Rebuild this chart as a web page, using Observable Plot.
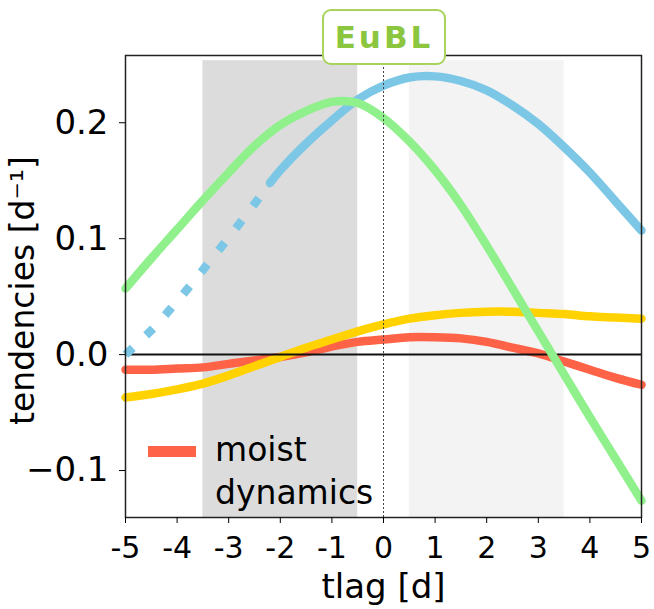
<!DOCTYPE html>
<html><head><meta charset="utf-8">
<script src="https://cdn.jsdelivr.net/npm/d3@7"></script>
<script src="https://cdn.jsdelivr.net/npm/@observablehq/plot@0.6"></script>
<style>
body{margin:0;background:#fff;}
#wrap{position:relative;width:654px;height:609px;overflow:hidden;font-family:"DejaVu Sans",sans-serif;}
#wrap svg{position:absolute;left:0;top:0;}
#title{position:absolute;left:322px;top:9px;width:120px;height:52px;border:2px solid #a9d35e;border-radius:9px;background:#fff;
  color:#8cc63f;font-family:"DejaVu Sans",sans-serif;font-weight:bold;font-size:31px;letter-spacing:3px;text-align:center;line-height:52px;}
#legsw{position:absolute;left:148px;top:446px;width:48px;height:11px;}
#legtx{position:absolute;left:215px;top:428px;font-family:"DejaVu Sans",sans-serif;font-size:33px;line-height:43px;color:#000;}
</style></head><body><div id="wrap"></div>
<script>
// x values (days)
const tlag = [-5,-4.5,-4,-3.5,-3,-2.5,-2,-1.5,-1,-0.5,0,0.5,1,1.5,2,2.5,3,3.5,4,4.5,5];
// red: moist dynamics
const moistDynamics = [-0.013,-0.013,-0.012,-0.011,-0.008,-0.005,-0.002,0.002,0.007,0.011,0.013,0.015,0.015,0.014,0.011,0.006,0.001,-0.006,-0.013,-0.020,-0.026];
// yellow term
const termYellow = [-0.037,-0.034,-0.030,-0.025,-0.018,-0.010,-0.002,0.006,0.013,0.020,0.026,0.031,0.034,0.036,0.037,0.037,0.036,0.035,0.033,0.032,0.031];
// green term
const termGreen = [0.057,0.083,0.108,0.133,0.157,0.180,0.198,0.210,0.218,0.217,0.204,0.184,0.159,0.129,0.094,0.057,0.020,-0.017,-0.054,-0.090,-0.126];
// blue term (dotted up to blueDottedUntil)
const blueX = [-5,-4.5,-4,-3.5,-3,-2.5,-2.2,-2,-1.5,-1,-0.5,0,0.5,1,1.5,2,2.5,3,3.5,4,4.5,5];
const termBlue = [0.000,0.021,0.046,0.073,0.101,0.130,0.148,0.159,0.182,0.202,0.220,0.232,0.239,0.240,0.236,0.228,0.215,0.199,0.179,0.157,0.132,0.107];
const blueDottedUntil = -2.2;
// shaded windows
const spanStart = [-3.5, 0.5];
const spanEnd = [-0.5, 3.5];
const spanFill = ["#dcdcdc", "#f3f3f3"];
// ticks
const xTicks = [-5,-4,-3,-2,-1,0,1,2,3,4,5];
const xTickLabels = ["-5","-4","-3","-2","-1","0","1","2","3","4","5"];
const yTicks = [-0.1, 0, 0.1, 0.2];
const yTickLabels = ["\u22120.1","0.0","0.1","0.2"];
const xLabel = "tlag [d]";
const yLabel = "tendencies [d\u207B\u00B9]";
const titleText = "EuBL";
const legendLabel = ["moist", "dynamics"];

const colRed = "#ff6347", colYellow = "#ffd200", colGreen = "#8ff08c", colBlue = "#7dc7e6";

const yDomain = [-0.1405, 0.258];
const spanTop = 0.2535;

const spans = spanStart.map((s,i)=>({x1:s, x2:spanEnd[i], fill:spanFill[i]}));
const mk = (arr)=>tlag.map((x,i)=>({x, y:arr[i]}));
const blueRows = [];
blueX.forEach((x,i)=>{
  if (x <= blueDottedUntil) blueRows.push({x, y:termBlue[i], seg:"dotted"});
  if (x >= blueDottedUntil) blueRows.push({x, y:termBlue[i], seg:"solid"});
});

const lineOpts = {x:"x", y:"y", strokeWidth:8.5, curve:"catmull-rom"};

const chart = Plot.plot({
  width: 654, height: 609,
  marginLeft: 125, marginRight: 13, marginTop: 55, marginBottom: 92,
  style: {background:"transparent", color:"#000", fontFamily:"DejaVu Sans, sans-serif"},
  x: {domain:[-5,5]},
  y: {domain:yDomain},
  marks: [
    Plot.rect(spans, {x1:"x1", x2:"x2", y1:()=>yDomain[0], y2:()=>spanTop, fill:"fill"}),
    Plot.line(mk(moistDynamics), {...lineOpts, stroke:colRed}),
    Plot.line(mk(termYellow), {...lineOpts, stroke:colYellow}),
    Plot.ruleY([0], {stroke:"#111", strokeWidth:2}),
    Plot.line(blueRows.filter(d=>d.seg==="dotted"), {...lineOpts, stroke:colBlue, strokeDasharray:"10,18", strokeLinecap:"butt"}),
    Plot.line(blueRows.filter(d=>d.seg==="solid"), {...lineOpts, stroke:colBlue}),
    Plot.line(mk(termGreen), {...lineOpts, stroke:colGreen}),
    Plot.ruleX([0], {stroke:"#444", strokeWidth:1, strokeDasharray:"2,2"}),
    Plot.frame({stroke:"#222", strokeWidth:1.5}),
    Plot.axisX({ticks:xTicks, tickFormat:d=>xTickLabels[xTicks.indexOf(d)], tickSize:6, tickPadding:13, fontSize:30, fontFamily:"DejaVu Sans, sans-serif", label:null}),
    Plot.axisY({ticks:yTicks, tickFormat:d=>yTickLabels[yTicks.indexOf(d)], tickSize:6, tickPadding:11, fontSize:34, fontFamily:"DejaVu Sans, sans-serif", label:null}),
    Plot.text([xLabel], {frameAnchor:"bottom", dy:80, lineAnchor:"bottom", text:d=>d, fontSize:34, fontFamily:"DejaVu Sans, sans-serif", fill:"#000"}),
    Plot.text([yLabel], {frameAnchor:"left", dx:-92, dy:4, rotate:-90, textAnchor:"middle", lineAnchor:"bottom", text:d=>d, fontSize:33, fontFamily:"DejaVu Sans, sans-serif", fill:"#000"})
  ]
});
const wrap = document.getElementById("wrap");
wrap.appendChild(chart);

const title = document.createElement("div");
title.id = "title"; title.textContent = titleText;
wrap.appendChild(title);

const sw = document.createElement("div");
sw.id = "legsw"; sw.style.background = colRed;
wrap.appendChild(sw);
const lt = document.createElement("div");
lt.id = "legtx"; lt.innerHTML = legendLabel.join("<br>");
wrap.appendChild(lt);
</script>
</body></html>
